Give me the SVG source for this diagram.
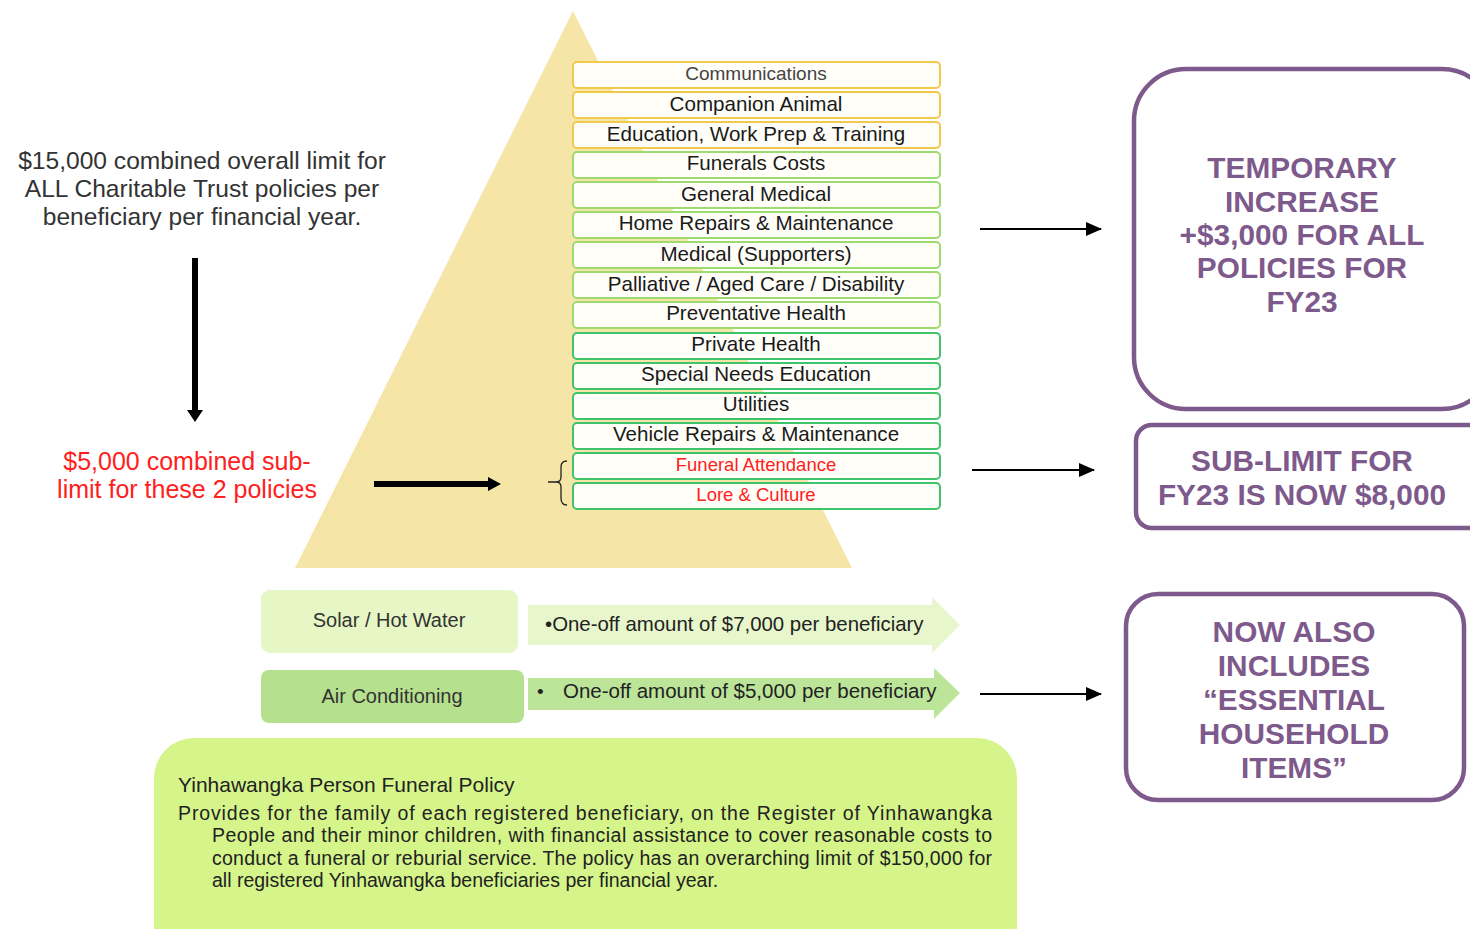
<svg xmlns="http://www.w3.org/2000/svg" width="1470" height="929" viewBox="0 0 1470 929">
<defs>
<marker id="ah2" markerWidth="16" markerHeight="14" refX="15" refY="7" orient="auto" markerUnits="userSpaceOnUse">
<path d="M0,0 L16,7 L0,14 Z" fill="#000"/>
</marker>
</defs>
<style>
text{font-family:"Liberation Sans",Arial,sans-serif}
.item rect{fill:#fffef9;stroke-width:2}
.y rect{stroke:#f2c94c}
.lg rect{stroke:#9fda6e}
.g rect{stroke:#3fc46c}
.item text{font-size:20.6px;fill:#1a1a1a;text-anchor:middle}
.item text.red{fill:#ff2020;font-size:18.5px}
.pbox rect{fill:#fff;stroke:#7e5a8c;stroke-width:4.5}
.pbox text{font-size:29.8px;font-weight:bold;fill:#7e5a8c;text-anchor:middle}
.lt{font-size:24.6px;fill:#333;text-anchor:middle}
.rt{font-size:25px;fill:#ff2020;text-anchor:middle}
.gt{font-size:19.5px;fill:#222}
.conn line{stroke:#000}
.conn polygon{fill:#000}
</style>
<polygon points="573,11 295,568 852,568" fill="#f5e6a8"/>

<g id="left-text">
<text class="lt" x="202" y="169">$15,000 combined overall limit for</text>
<text class="lt" x="202" y="197">ALL Charitable Trust policies per</text>
<text class="lt" x="202" y="225">beneficiary per financial year.</text>
</g>
<g id="sub-limit-text">
<text class="rt" x="187" y="470">$5,000 combined sub-</text>
<text class="rt" x="187" y="498">limit for these 2 policies</text>
</g>

<g id="item-communications" class="item y"><rect x="573" y="62" width="367" height="26" rx="4"/><text x="756" y="80" style="font-size:19px;fill:#444">Communications</text></g>
<g id="item-companion" class="item y"><rect x="573" y="92" width="367" height="26" rx="4"/><text x="756" y="111">Companion Animal</text></g>
<g id="item-education" class="item y"><rect x="573" y="122" width="367" height="26" rx="4"/><text x="756" y="141">Education, Work Prep &amp; Training</text></g>
<g id="item-funerals" class="item lg"><rect x="573" y="152" width="367" height="26" rx="4"/><text x="756" y="170">Funerals Costs</text></g>
<g id="item-general" class="item lg"><rect x="573" y="182" width="367" height="26" rx="4"/><text x="756" y="201">General Medical</text></g>
<g id="item-home" class="item lg"><rect x="573" y="212" width="367" height="26" rx="4"/><text x="756" y="230">Home Repairs &amp; Maintenance</text></g>
<g id="item-medical" class="item lg"><rect x="573" y="242" width="367" height="26" rx="4"/><text x="756" y="261">Medical (Supporters)</text></g>
<g id="item-palliative" class="item lg"><rect x="573" y="272" width="367" height="26" rx="4"/><text x="756" y="291">Palliative / Aged Care / Disability</text></g>
<g id="item-preventative" class="item lg"><rect x="573" y="302" width="367" height="26" rx="4"/><text x="756" y="320">Preventative Health</text></g>
<g id="item-private" class="item g"><rect x="573" y="333" width="367" height="26" rx="4"/><text x="756" y="351">Private Health</text></g>
<g id="item-special" class="item g"><rect x="573" y="363" width="367" height="26" rx="4"/><text x="756" y="381">Special Needs Education</text></g>
<g id="item-utilities" class="item g"><rect x="573" y="393" width="367" height="26" rx="4"/><text x="756" y="411">Utilities</text></g>
<g id="item-vehicle" class="item g"><rect x="573" y="423" width="367" height="26" rx="4"/><text x="756" y="441">Vehicle Repairs &amp; Maintenance</text></g>
<g id="item-funeral-attendance" class="item g"><rect x="573" y="453" width="367" height="26" rx="4"/><text class="red" x="756" y="471">Funeral Attendance</text></g>
<g id="item-lore" class="item g"><rect x="573" y="483" width="367" height="26" rx="4"/><text class="red" x="756" y="501">Lore &amp; Culture</text></g>

<g id="bracket">
<path d="M567,461 Q561,461 561,467 L561,477 Q561,482 556,482 L548,482 M556,482 Q561,482 561,487 L561,498 Q561,505 567,505" fill="none" stroke="#222" stroke-width="1.3"/>
</g>

<g id="box-temporary" class="pbox">
<rect x="1134" y="69" width="360" height="340" rx="52"/>
<text x="1302" y="178">TEMPORARY</text>
<text x="1302" y="212">INCREASE</text>
<text x="1302" y="245">+$3,000 FOR ALL</text>
<text x="1302" y="278">POLICIES FOR</text>
<text x="1302" y="312">FY23</text>
</g>
<g id="box-sublimit" class="pbox">
<rect x="1136" y="425" width="360" height="103" rx="16"/>
<text x="1302" y="471">SUB-LIMIT FOR</text>
<text x="1302" y="505">FY23 IS NOW $8,000</text>
</g>
<g id="box-household" class="pbox">
<rect x="1126" y="594" width="338" height="206" rx="32"/>
<text x="1294" y="642">NOW ALSO</text>
<text x="1294" y="676">INCLUDES</text>
<text x="1294" y="710">“ESSENTIAL</text>
<text x="1294" y="744">HOUSEHOLD</text>
<text x="1294" y="778">ITEMS”</text>
</g>

<g id="solar">
<rect x="261" y="590" width="257" height="63" rx="9" fill="#e6f6c4"/>
<text x="389" y="627" text-anchor="middle" style="font-size:20px;fill:#333">Solar / Hot Water</text>
</g>
<g id="solar-amount">
<polygon points="528,605 932,605 932,597 960,625 932,653 932,645 528,645" fill="#e8f6cc"/>
<text x="545" y="631" style="font-size:20.4px;fill:#222">•One-off amount of $7,000 per beneficiary</text>
</g>
<g id="aircon">
<rect x="261" y="670" width="263" height="53" rx="8" fill="#b5e08e"/>
<text x="392" y="703" text-anchor="middle" style="font-size:20px;fill:#333">Air Conditioning</text>
</g>
<g id="aircon-amount">
<polygon points="528,678 934,678 934,668 960,693 934,719 934,710 528,710" fill="#bde59a"/>
<text x="537" y="698" style="font-size:19px;fill:#222">•</text>
<text x="563" y="698" style="font-size:20.5px;fill:#222">One-off amount of $5,000 per beneficiary</text>
</g>

<g id="funeral-policy">
<rect x="154" y="738" width="863" height="230" rx="40" fill="#d5f48a"/>
<text class="gt" x="178" y="792" style="font-size:21px">Yinhawangka Person Funeral Policy</text>
<text class="gt" x="178" y="820" textLength="814" lengthAdjust="spacing">Provides for the family of each registered beneficiary, on the Register of Yinhawangka</text>
<text class="gt" x="212" y="842" textLength="780" lengthAdjust="spacing">People and their minor children, with financial assistance to cover reasonable costs to</text>
<text class="gt" x="212" y="865" textLength="780" lengthAdjust="spacing">conduct a funeral or reburial service. The policy has an overarching limit of $150,000 for</text>
<text class="gt" x="212" y="887">all registered Yinhawangka beneficiaries per financial year.</text>
</g>

<g id="connectors" class="conn">
<line x1="195" y1="258" x2="195" y2="411" stroke-width="6"/>
<polygon points="187,410 203,410 195,422"/>
<line x1="374" y1="484" x2="489" y2="484" stroke-width="6"/>
<polygon points="488,477 488,491 501,484"/>
<line x1="980" y1="229" x2="1101" y2="229" stroke-width="2" marker-end="url(#ah2)"/>
<line x1="972" y1="470" x2="1094" y2="470" stroke-width="2" marker-end="url(#ah2)"/>
<line x1="980" y1="694" x2="1101" y2="694" stroke-width="2" marker-end="url(#ah2)"/>
</g>
</svg>
